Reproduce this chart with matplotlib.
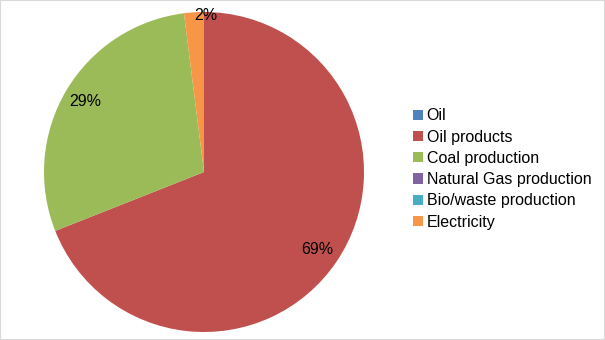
import numpy as np
import matplotlib.pyplot as plt
from matplotlib.patches import Rectangle

plt.rcParams['font.family'] = ['Liberation Sans', 'DejaVu Sans']

# Dados do gráfico
categorias = ["Oil", "Oil products", "Coal production", "Natural Gas production",
              "Bio/waste production", "Electricity"]
valores = [0, 69, 29, 0, 0, 2]
cores = ["#4F81BD", "#C0504D", "#9BBB59", "#8064A2", "#4BACC6", "#F79646"]

W, H = 605, 340
fig = plt.figure(figsize=(W / 100, H / 100), dpi=100)

# Eixo quadrado para a pizza (centro ~ (204,172), raio ~160 px)
cx, cy, r = 204, 172, 160
ax = fig.add_axes([(cx - r) / W, (H - cy - r) / H, 2 * r / W, 2 * r / H])

wedges, _ = ax.pie(valores, colors=cores, startangle=90, counterclock=False,
                   radius=1, wedgeprops=dict(linewidth=0))
ax.set_xlim(-1, 1)
ax.set_ylim(-1, 1)
ax.set_aspect('equal')
ax.axis('off')

# Rótulos de percentagem
total = sum(valores)
for w, v in zip(wedges, valores):
    if v == 0:
        continue
    ang = np.deg2rad((w.theta1 + w.theta2) / 2)
    pequeno = v / total <= 0.05
    d = 0.98 if pequeno else 0.86
    ax.text(d * np.cos(ang), d * np.sin(ang), f"{v / total * 100:.0f}%",
            ha='left' if pequeno else 'center', va='center',
            fontsize=11.5, color='black')

leg = fig.legend(wedges, categorias, loc='center left',
                 bbox_to_anchor=(413 / W, 1 - 169 / H), frameon=False,
                 fontsize=11.5, handlelength=0.6, handleheight=0.6,
                 handletextpad=0.25, labelspacing=0.39, borderpad=0,
                 borderaxespad=0)

# Moldura cinza
fig.patches.append(Rectangle((0, 0), 1, 1, transform=fig.transFigure,
                             fill=False, edgecolor='#d9d9d9', linewidth=1.5))

fig.savefig("out.png", dpi=100)
